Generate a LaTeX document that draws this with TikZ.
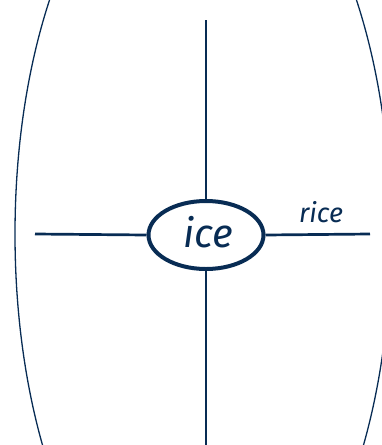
\documentclass[tikz,border=0pt]{standalone}
\usepackage{fontspec}
\setmainfont{Fira Sans}
\usetikzlibrary{shapes.geometric}
\definecolor{navy}{RGB}{8,44,84}
\tikzset{
  hub/.style={draw=navy, line width=4pt, ellipse, minimum width=115pt, minimum height=68pt, inner sep=0pt},
  spoke/.style={draw=navy, line width=2.7pt},
  rim/.style={draw=navy, line width=1.3pt},
  word/.style={text=navy, inner sep=0pt, anchor=base}
}
\begin{document}
\begin{tikzpicture}[x=1pt,y=-1pt]
\useasboundingbox (0,0) rectangle (382,445);
\begin{scope}
\clip (0,0) rectangle (382,445);
\draw[rim] (203,234) ellipse [x radius=188pt, y radius=405pt];
\end{scope}
\node[hub] (ice) at (206,235) {};
\node[word, font=\fontsize{40}{40}\selectfont\itshape] (icet) at (208.5,247.5) {ice};
\node[word, font=\fontsize{27}{27}\selectfont\itshape] (rice) at (321,222.5) {rice};
\coordinate (top) at (206,20);
\coordinate (bot) at (206,446);
\coordinate (lft) at (35,234);
\coordinate (rgt) at (370,234);
\draw[spoke] (ice) -- (top);
\draw[spoke] (ice) -- (bot);
\draw[spoke] (ice.west) -- (lft);
\draw[spoke] (ice.east) -- (rgt);
\end{tikzpicture}
\end{document}
